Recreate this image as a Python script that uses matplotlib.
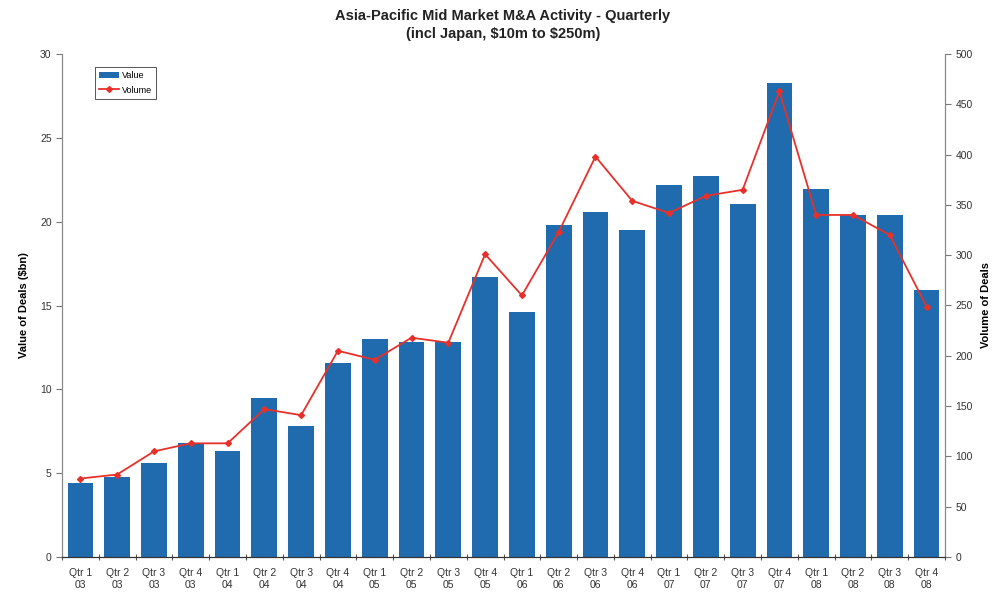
import numpy as np
import matplotlib.pyplot as plt

plt.rcParams['font.family'] = ['Liberation Sans', 'DejaVu Sans']

# quarterly data
quarters = ['Qtr 1\n03', 'Qtr 2\n03', 'Qtr 3\n03', 'Qtr 4\n03',
            'Qtr 1\n04', 'Qtr 2\n04', 'Qtr 3\n04', 'Qtr 4\n04',
            'Qtr 1\n05', 'Qtr 2\n05', 'Qtr 3\n05', 'Qtr 4\n05',
            'Qtr 1\n06', 'Qtr 2\n06', 'Qtr 3\n06', 'Qtr 4\n06',
            'Qtr 1\n07', 'Qtr 2\n07', 'Qtr 3\n07', 'Qtr 4\n07',
            'Qtr 1\n08', 'Qtr 2\n08', 'Qtr 3\n08', 'Qtr 4\n08']
value = [4.4, 4.8, 5.6, 6.8, 6.3, 9.5, 7.8, 11.6, 13.0, 12.8, 12.8, 16.7,
         14.6, 19.8, 20.6, 19.5, 22.2, 22.7, 21.05, 28.3, 21.95, 20.4, 20.4, 15.9]
volume = [78, 82, 105, 113, 113, 147, 141, 205, 196, 218, 213, 301,
          260, 323, 398, 354, 342, 359, 365, 463, 340, 340, 320, 249]

fig = plt.figure(figsize=(10.06, 5.95), dpi=100)
ax = fig.add_axes([62/1006, 1-557/595, (945-62)/1006, (557-54)/595])
ax2 = ax.twinx()

x = np.arange(len(quarters))
bars = ax.bar(x, value, width=0.7, color='#1f6bad', label='Value', zorder=2)
line, = ax2.plot(x, volume, color='#e8302a', lw=1.3, marker='D', ms=3,
                 label='Volume', zorder=3)

ax.set_xlim(-0.5, len(quarters) - 0.5)
ax.set_ylim(0, 30)
ax2.set_ylim(0, 500)
ax.set_yticks(np.arange(0, 31, 5))
ax2.set_yticks(np.arange(0, 501, 50))

# category labels in the middle, ticks on the boundaries
ax.set_xticks(np.arange(-0.5, len(quarters), 1))
ax.set_xticklabels([])
ax.set_xticks(x, minor=True)
ax.set_xticklabels(quarters, minor=True, fontsize=7.5, color='#333333')
ax.tick_params(axis='x', which='minor', length=0, pad=8)
ax.tick_params(axis='x', which='major', length=4, direction='inout', color='#555555')

ax.tick_params(axis='y', labelsize=7.5, labelcolor='#333333', color='#777777', length=4)
ax2.tick_params(axis='y', labelsize=7.5, labelcolor='#333333', color='#777777', length=4)

for a in (ax, ax2):
    a.spines['top'].set_visible(False)
    a.spines['left'].set_color('#888888')
    a.spines['right'].set_color('#888888')
    a.spines['bottom'].set_color('#333333')
ax.set_zorder(ax2.get_zorder() - 1)
ax2.patch.set_visible(False)

ax.set_ylabel('Value of Deals (\\$bn)', fontsize=8, fontweight='bold', labelpad=8)
ax2.set_ylabel('Volume of Deals', fontsize=8, fontweight='bold', labelpad=6)

fig.suptitle('Asia-Pacific Mid Market M&A Activity - Quarterly\n(incl Japan, \\$10m to \\$250m)',
             fontsize=10.5, fontweight='bold', y=0.985, color='#222222',
             linespacing=1.35)

leg = ax2.legend([bars, line], ['Value', 'Volume'], loc='upper left',
                 bbox_to_anchor=(0.037, 0.975), fontsize=6.5, fancybox=False,
                 edgecolor='#555555', framealpha=1, handlelength=2.2,
                 handletextpad=0.3, borderpad=0.5, labelspacing=0.6,
                 borderaxespad=0)
leg.get_frame().set_linewidth(0.7)

fig.savefig('out.png', dpi=100)
